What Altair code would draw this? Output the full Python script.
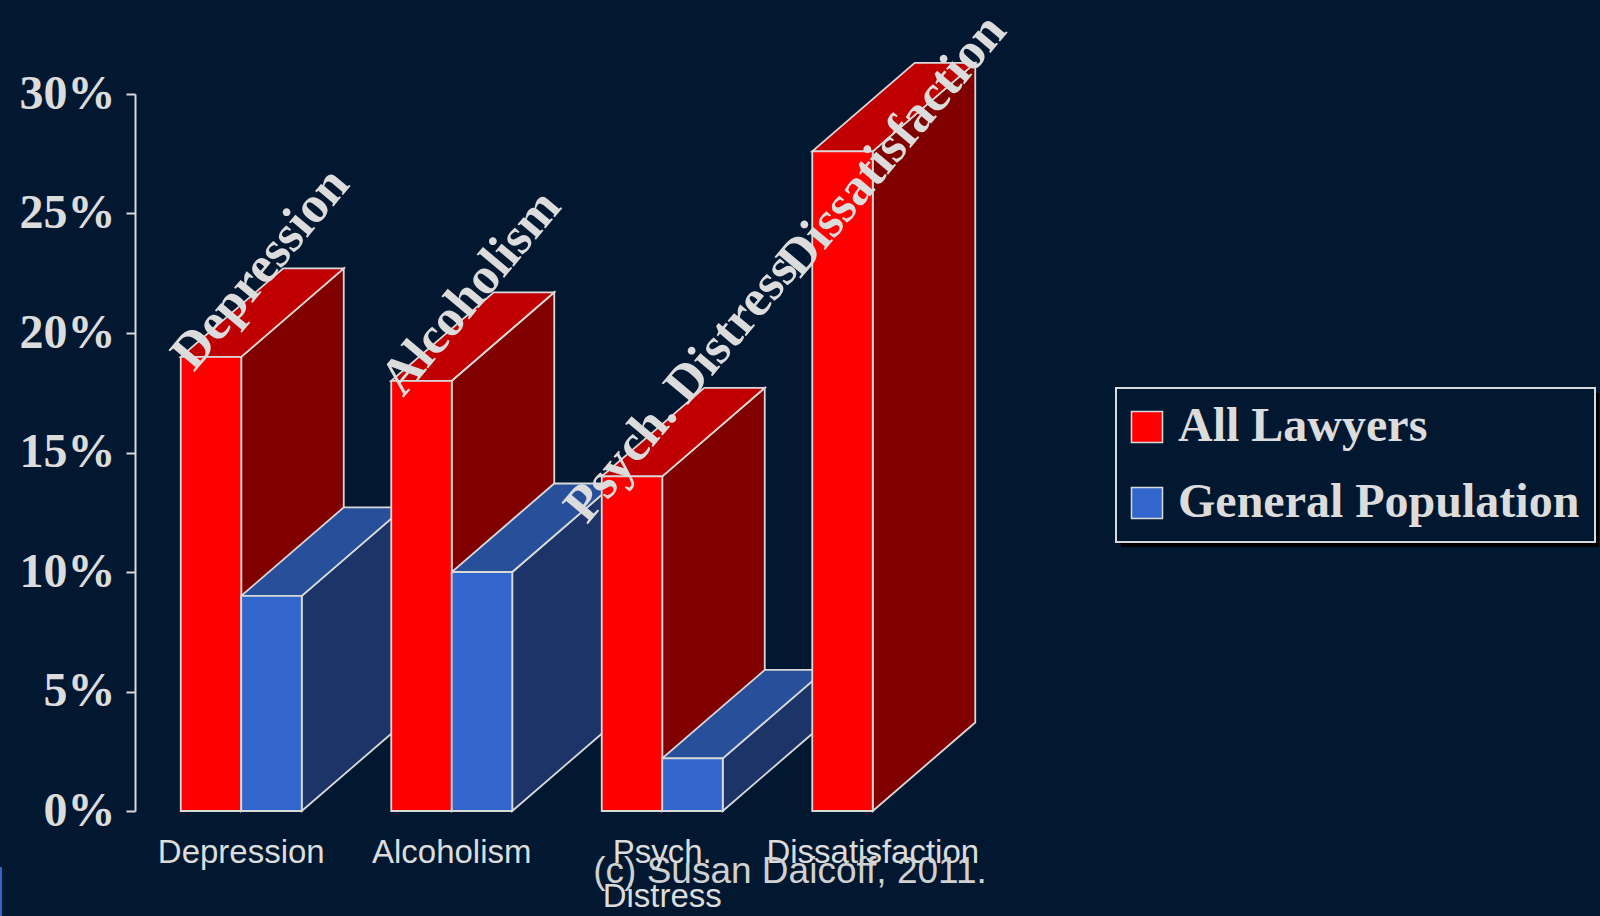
import altair as alt
import pandas as pd

# ---------------- data ----------------
categories = ["Depression", "Alcoholism", "Psych. Distress", "Dissatisfaction"]
axis_labels = ["Depression", "Alcoholism", "Psych.\nDistress", "Dissatisfaction"]
series_names = ["All Lawyers", "General Population"]
all_lawyers = [19.0, 18.0, 14.0, 27.6]
general_population = [9.0, 10.0, 2.2, None]
y_ticks = [0, 5, 10, 15, 20, 25, 30]
copyright_text = "(c) Susan Daicoff, 2011."

# ---------------- style ----------------
BG = "#011830"
EDGE = "#d9d9d9"
TEXT = "#dcdcdc"
front_colors = ["#ff0000", "#3366cc"]
top_colors = ["#c00000", "#28509a"]
side_colors = ["#800000", "#1c3467"]

W, H = 842, 717
PX_X = W / 4.0
PX_Y = H / 30.0
BAR_W = 60.5 / PX_X      # bar width in category units
DDX = 102.5 / PX_X       # 3-D depth, horizontal
DDY = 88.5 / PX_Y        # 3-D depth, vertical (in %)
LABEL_RISE = 44 / PX_Y
LABEL_MAX = 27.85

fronts, sides, tops = [], [], []
for s, (name, vals) in enumerate(zip(series_names, [all_lawyers, general_population])):
    for i, (cat, v) in enumerate(zip(categories, vals)):
        if v is None:
            continue
        c = i + 0.5
        L = c - BAR_W if s == 0 else c
        R = c if s == 0 else c + BAR_W
        fronts.append(dict(cat=cat, series=name, L=L, R=R, lo=0.0, v=v))
        sides.append(dict(cat=cat, s=s, x=R, lo=0.0, hi=v))
        sides.append(dict(cat=cat, s=s, x=R + DDX, lo=DDY, hi=v + DDY))
        k = DDY / DDX
        tops.append(dict(cat=cat, s=s, x=L, lo=v, hi=v))
        tops.append(dict(cat=cat, s=s, x=R, lo=v, hi=v + (R - L) * k))
        tops.append(dict(cat=cat, s=s, x=L + DDX, lo=v + (L + DDX - R) * k, hi=v + DDY))
        tops.append(dict(cat=cat, s=s, x=R + DDX, lo=v + DDY, hi=v + DDY))

front_df = pd.DataFrame(fronts)
side_df = pd.DataFrame(sides)
top_df = pd.DataFrame(tops)

label_df = pd.DataFrame({
    "cat": categories,
    "lx": [i + 0.5 - BAR_W / 2 + DDX / 2 - 2 / PX_X for i in range(len(categories))],
    "ly": [min(v + DDY / 2 + LABEL_RISE, LABEL_MAX) for v in all_lawyers],
})
xlab_df = pd.DataFrame({"label": axis_labels, "xc": [i + 0.5 for i in range(len(categories))]})

x_scale = alt.Scale(domain=[0, 4], nice=False, zero=False)
y_scale = alt.Scale(domain=[0, 30], nice=False, zero=True)

y_axis = alt.Axis(
    values=y_ticks, labelExpr="datum.value + '%'", grid=False, title=None,
    domainColor=EDGE, domainWidth=2, tickColor=EDGE, tickWidth=2, tickSize=9,
    labelFont="Liberation Serif", labelFontWeight="bold", labelFontSize=48,
    labelColor=TEXT, labelPadding=11, labelFlush=False, offset=1,
)


def ychan(field):
    return alt.Y(field, scale=y_scale, axis=y_axis)


def side_layer(s):
    return alt.Chart(side_df[side_df.s == s]).mark_area(
        fill=side_colors[s], stroke=EDGE, strokeWidth=1.8, orient="vertical", opacity=1
    ).encode(
        x=alt.X("x:Q", scale=x_scale, axis=None),
        y=ychan("lo:Q"),
        y2="hi:Q",
        detail="cat:N",
    )


def top_layer(s):
    return alt.Chart(top_df[top_df.s == s]).mark_area(
        fill=top_colors[s], stroke=EDGE, strokeWidth=1.8, orient="vertical", opacity=1
    ).encode(
        x=alt.X("x:Q", scale=x_scale, axis=None),
        y=ychan("lo:Q"),
        y2="hi:Q",
        detail="cat:N",
    )


front = alt.Chart(front_df).mark_rect(stroke=EDGE, strokeWidth=1.8).encode(
    x=alt.X("L:Q", scale=x_scale, axis=None),
    x2="R:Q",
    y=ychan("lo:Q"),
    y2="v:Q",
    color=alt.Color(
        "series:N",
        scale=alt.Scale(domain=series_names, range=front_colors),
        legend=alt.Legend(
            title=None, orient="none", legendX=980, legendY=294, direction="vertical",
            symbolType="square", symbolSize=961, symbolStrokeColor=EDGE, symbolStrokeWidth=1.5,
            symbolOffset=-8,
            labelFont="Liberation Serif", labelFontWeight="bold", labelFontSize=48,
            labelColor=TEXT, labelLimit=1000, labelOffset=7, rowPadding=28, padding=15,
            fillColor=BG, strokeColor=EDGE,
        ),
    ),
)

labels = alt.Chart(label_df).mark_text(
    angle=310, align="center", baseline="middle", font="Liberation Serif",
    fontWeight="bold", fontSize=52, color=TEXT,
).encode(
    x=alt.X("lx:Q", scale=x_scale, axis=None),
    y=ychan("ly:Q"),
    text="cat:N",
)

xlabels = alt.Chart(xlab_df).mark_text(
    align="center", baseline="alphabetic", font="Liberation Sans", fontSize=33,
    color=TEXT, lineBreak="\n", lineHeight=44,
).encode(
    x=alt.X("xc:Q", scale=x_scale, axis=None),
    y=alt.value(769),
    text="label:N",
)

copyright = alt.Chart(pd.DataFrame({"t": [copyright_text]})).mark_text(
    align="center", baseline="alphabetic", font="Liberation Sans", fontSize=37, color="#d0d0d0",
).encode(x=alt.value(654), y=alt.value(789), text="t:N")

shadow = alt.Chart(pd.DataFrame({"a": [0]})).mark_rect(color="#000000").encode(
    x=alt.value(985), x2=alt.value(1463), y=alt.value(299), y2=alt.value(453)
)

edge_mark = alt.Chart(pd.DataFrame({"a": [0]})).mark_rule(color="#3a62c8", strokeWidth=2).encode(
    x=alt.value(-135), y=alt.value(773), y2=alt.value(822)
)

chart = alt.layer(
    side_layer(0), side_layer(1), top_layer(0), top_layer(1), front,
    labels, xlabels, copyright, shadow, edge_mark,
).properties(
    width=W, height=H, background=BG,
    padding={"left": 136, "top": 94, "right": 1600 - 136 - W, "bottom": 916 - 94 - H},
    autosize=alt.AutoSizeParams(type="none"),
).configure_view(stroke=None).configure_legend(strokeWidth=2)

chart.save("out.html", embed_options={"renderer": "svg", "actions": False})
